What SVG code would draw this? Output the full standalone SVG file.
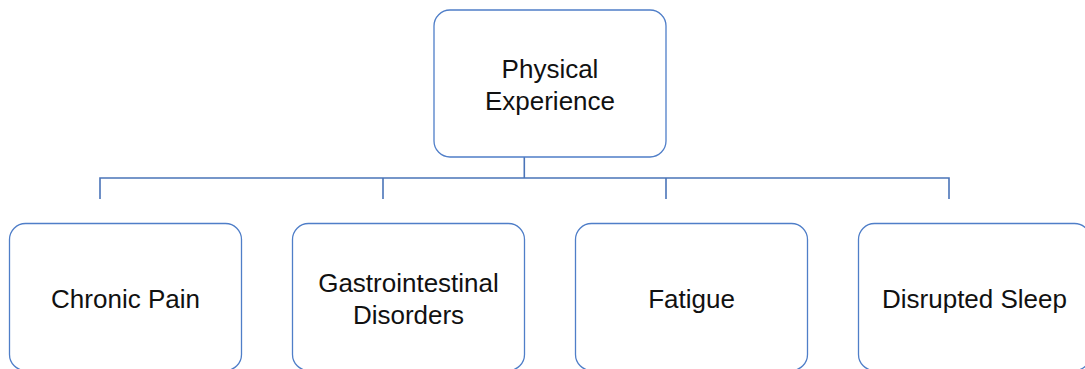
<svg xmlns="http://www.w3.org/2000/svg" width="1085" height="369" viewBox="0 0 1085 369">
  <style>
    .box { fill: #ffffff; stroke: #4f7ec8; stroke-width: 1.3; }
    .link { fill: none; stroke: #4a74b8; stroke-width: 1.6; }
    .label { font-family: "Liberation Sans", Arial, sans-serif; font-size: 26px; fill: #111111; text-anchor: middle; }
  </style>
  <rect width="1085" height="369" fill="#ffffff"/>

  <!-- connectors: trunk, bus bar and drops -->
  <g id="connectors">
    <path class="link" d="M524.3 157 V178"/>
    <path class="link" d="M100 199 V178 H949 V199"/>
    <path class="link" d="M383 178 V199"/>
    <path class="link" d="M666 178 V199"/>
  </g>

  <g id="physical-experience">
    <rect class="box" x="434" y="10" width="232" height="147" rx="16"/>
    <text class="label" x="550" y="77.5">Physical</text>
    <text class="label" x="550" y="110">Experience</text>
  </g>

  <g id="chronic-pain">
    <rect class="box" x="9.5" y="223.5" width="232" height="147" rx="16"/>
    <text class="label" x="125.5" y="308">Chronic Pain</text>
  </g>

  <g id="gastrointestinal-disorders">
    <rect class="box" x="292.5" y="223.5" width="232" height="147" rx="16"/>
    <text class="label" x="408.5" y="291.7">Gastrointestinal</text>
    <text class="label" x="408.5" y="324">Disorders</text>
  </g>

  <g id="fatigue">
    <rect class="box" x="575.5" y="223.5" width="232" height="147" rx="16"/>
    <text class="label" x="691.5" y="307.7">Fatigue</text>
  </g>

  <g id="disrupted-sleep">
    <rect class="box" x="858.5" y="223.5" width="232" height="147" rx="16"/>
    <text class="label" x="974.5" y="308">Disrupted Sleep</text>
  </g>
</svg>
